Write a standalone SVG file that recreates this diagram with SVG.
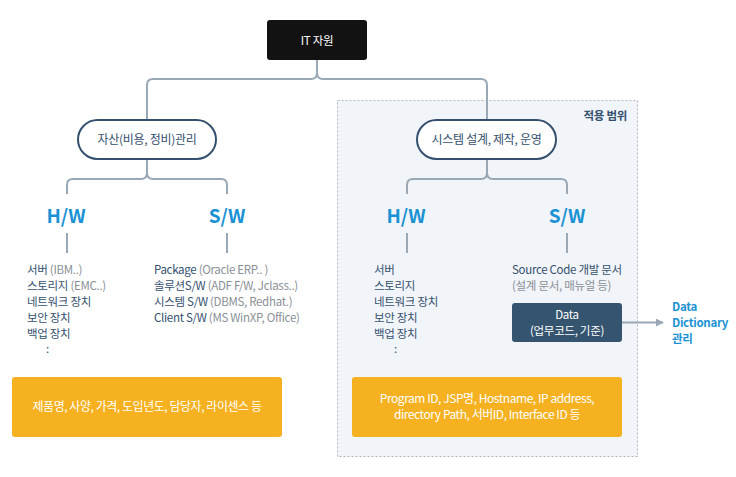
<svg xmlns="http://www.w3.org/2000/svg" width="736" height="477" viewBox="0 0 736 477">
  <defs>
    <marker id="arrow" viewBox="0 0 10 10" refX="9" refY="5" markerWidth="8" markerHeight="8" markerUnits="userSpaceOnUse" orient="auto">
      <path d="M0,0 L10,5 L0,10 Z" fill="#9aa8b6"/>
    </marker>
    <style>
      text { font-family: "Noto Sans CJK KR", "Noto Sans", sans-serif; letter-spacing: -0.3px; }
      .conn { fill: none; stroke: #9aa8b6; stroke-width: 2; }
      .pill { fill: #ffffff; stroke: #34506e; stroke-width: 2; }
      .pilltxt { font-size: 12px; fill: #34506e; text-anchor: middle; }
      .cat { font-size: 19px; font-weight: bold; fill: #1b92d4; text-anchor: middle; letter-spacing: 0; }
      .item { font-size: 11.5px; fill: #34506e; }
      .sub { fill: #8a8f96; }
      .note { fill: #f5b120; }
      .notetxt { font-size: 12px; fill: #ffffff; text-anchor: middle; letter-spacing: -0.45px; }
    </style>
  </defs>

  <!-- scope area -->
  <g id="scope">
    <rect x="337.5" y="100.5" width="300" height="356" fill="#f1f4f8" stroke="#b0b4ba" stroke-width="1" stroke-dasharray="2,2"/>
    <text x="627" y="120" font-size="11.5" font-weight="bold" fill="#34506e" text-anchor="end">적용 범위</text>
  </g>

  <!-- connectors -->
  <g id="connectors">
    <path class="conn" d="M317,60 V73 Q317,79 311,79 H153 Q147,79 147,85 V120"/>
    <path class="conn" d="M317,60 V73 Q317,79 323,79 H481 Q487,79 487,85 V120"/>
    <path class="conn" d="M147,159 V173 Q147,179 141,179 H73 Q67,179 67,185 V194"/>
    <path class="conn" d="M147,159 V173 Q147,179 153,179 H221 Q227,179 227,185 V194"/>
    <path class="conn" d="M487,159 V173 Q487,179 481,179 H413 Q407,179 407,185 V194"/>
    <path class="conn" d="M487,159 V173 Q487,179 493,179 H561 Q567,179 567,185 V194"/>
    <path class="conn" d="M67,233 V253 M227,233 V253 M407,233 V253 M567,233 V253"/>
    <path class="conn" d="M622,322.5 H663" marker-end="url(#arrow)"/>
  </g>

  <!-- root -->
  <g id="it-resource">
    <rect x="267" y="20" width="100" height="40" rx="3" fill="#121212"/>
    <text x="317" y="44.5" font-size="11.5" fill="#ffffff" text-anchor="middle">IT 자원</text>
  </g>

  <!-- asset management -->
  <g id="asset-mgmt">
    <rect class="pill" x="78" y="120" width="138" height="39" rx="19.5"/>
    <text class="pilltxt" x="147" y="144">자산(비용, 정비)관리</text>
  </g>

  <!-- system design / build / operation -->
  <g id="system-ops">
    <rect class="pill" x="417" y="120" width="139" height="39" rx="19.5"/>
    <text class="pilltxt" x="486.5" y="144">시스템 설계, 제작, 운영</text>
  </g>

  <!-- asset H/W -->
  <g id="asset-hw">
    <text class="cat" x="66" y="223">H/W</text>
    <text class="item" x="27" y="274">서버 <tspan class="sub">(IBM..)</tspan></text>
    <text class="item" x="27" y="290">스토리지 <tspan class="sub">(EMC..)</tspan></text>
    <text class="item" x="27" y="306">네트워크 장치</text>
    <text class="item" x="27" y="322">보안 장치</text>
    <text class="item" x="27" y="338">백업 장치</text>
    <text class="item" x="46" y="353">:</text>
  </g>

  <!-- asset S/W -->
  <g id="asset-sw">
    <text class="cat" x="227" y="223">S/W</text>
    <text class="item" x="154" y="274">Package <tspan class="sub">(Oracle ERP.. )</tspan></text>
    <text class="item" x="154" y="290">솔루션S/W <tspan class="sub">(ADF F/W, Jclass..)</tspan></text>
    <text class="item" x="154" y="306">시스템 S/W <tspan class="sub">(DBMS, Redhat.)</tspan></text>
    <text class="item" x="154" y="322">Client S/W <tspan class="sub">(MS WinXP, Office)</tspan></text>
  </g>

  <!-- system H/W -->
  <g id="system-hw">
    <text class="cat" x="406" y="223">H/W</text>
    <text class="item" x="374" y="274">서버</text>
    <text class="item" x="374" y="290">스토리지</text>
    <text class="item" x="374" y="306">네트워크 장치</text>
    <text class="item" x="374" y="322">보안 장치</text>
    <text class="item" x="374" y="338">백업 장치</text>
    <text class="item" x="394" y="353">:</text>
  </g>

  <!-- system S/W -->
  <g id="system-sw">
    <text class="cat" x="567" y="223">S/W</text>
    <text class="item" x="512" y="274">Source Code 개발 문서</text>
    <text class="item sub" x="512" y="290">(설계 문서, 매뉴얼 등)</text>
  </g>

  <!-- data -->
  <g id="data">
    <rect x="512" y="303" width="110" height="39" rx="3" fill="#34546f"/>
    <text x="567" y="319" font-size="11.5" fill="#ffffff" text-anchor="middle">Data</text>
    <text x="567" y="335" font-size="11.5" fill="#ffffff" text-anchor="middle">(업무코드, 기준)</text>
  </g>

  <!-- data dictionary -->
  <g id="data-dictionary">
    <text x="672" y="311" font-size="11.5" font-weight="bold" fill="#1b92d4">Data</text>
    <text x="672" y="327" font-size="11.5" font-weight="bold" fill="#1b92d4">Dictionary</text>
    <text x="672" y="343" font-size="11.5" font-weight="bold" fill="#1b92d4">관리</text>
  </g>

  <!-- asset attributes -->
  <g id="asset-attrs">
    <rect class="note" x="12" y="377" width="270" height="60" rx="3"/>
    <text class="notetxt" x="147" y="411">제품명, 사양, 가격, 도입년도, 담당자, 라이센스 등</text>
  </g>

  <!-- system attributes -->
  <g id="system-attrs">
    <rect class="note" x="352" y="377" width="270" height="60" rx="3"/>
    <text class="notetxt" x="487" y="403">Program ID, JSP명, Hostname, IP address,</text>
    <text class="notetxt" x="487" y="419">directory Path, 서버ID, Interface ID 등</text>
  </g>
</svg>
